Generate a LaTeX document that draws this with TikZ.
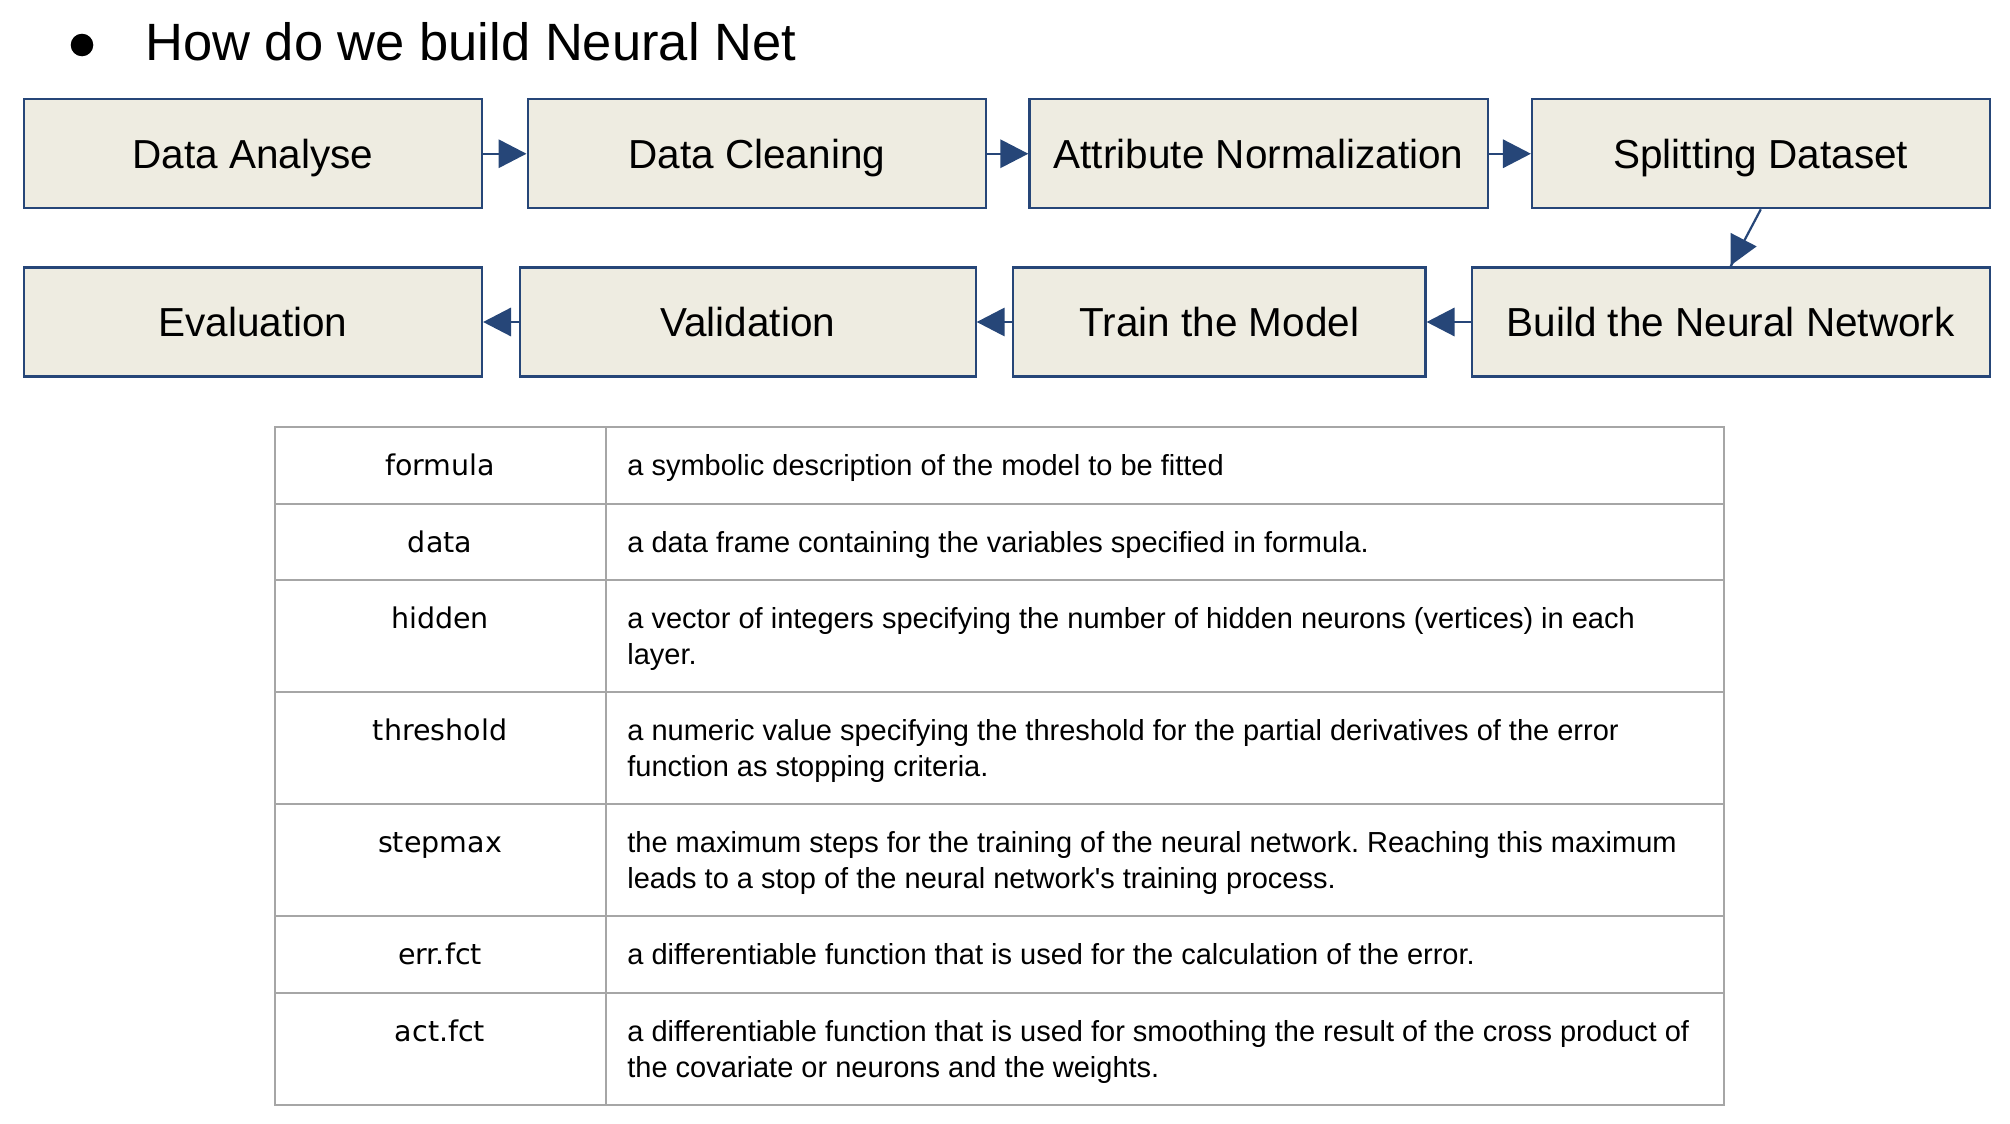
\documentclass[tikz,border=0pt]{standalone}
\usepackage{fontspec}
\newfontfamily\arialf{Liberation Sans}
\newfontfamily\dejavuf{DejaVu Sans}
\usetikzlibrary{arrows.meta,calc}
\definecolor{boxfill}{HTML}{EEECE1}
\definecolor{boxline}{HTML}{264678}
\definecolor{gridgray}{HTML}{A6A6A6}
\newcommand\twoln[2]{\vtop{\baselineskip=18pt\hbox{#1}\hbox{#2}}}
\frenchspacing
\begin{document}
\begin{tikzpicture}[x=0.5pt,y=-0.5pt,
  stepbox/.style={draw=boxline, fill=boxfill, line width=1.1pt, inner sep=0pt,
    minimum height=54.5pt, text height=14.5pt, text depth=0pt,
    font=\arialf\fontsize{20.25pt}{24pt}\selectfont},
  conn/.style={draw=boxline, line width=1.1pt},
  arr/.style={conn, -{Triangle[length=14pt,width=14.2pt]}},
  param/.style={font=\dejavuf\fontsize{14.25pt}{18pt}\selectfont, anchor=base, inner sep=0pt},
  desc/.style={font=\arialf\fontsize{14.5pt}{18pt}\selectfont, anchor=base west, inner sep=0pt},
  gridline/.style={draw=gridgray, line width=1pt}]
\useasboundingbox (0,0) rectangle (2010,1124);
% title
\node[circle, fill=black, minimum size=11.3pt, inner sep=0pt] (bullet) at (82,45) {};
\node[anchor=base west, inner sep=0pt, font=\arialf\fontsize{26.25pt}{30pt}\selectfont] (title) at (145,60.5) {How do we build Neural Net};
% row 1
\node[stepbox, minimum width=229.15pt] (da) at (252.85,153.75) {Data Analyse};
\node[stepbox, minimum width=229.2pt]  (dc) at (756.8,153.75) {Data Cleaning};
\node[stepbox, minimum width=229.15pt] (an) at (1258.55,153.75) {Attribute Normalization};
\node[stepbox, minimum width=228.8pt]  (sd) at (1760.8,153.75) {Splitting Dataset};
% row 2
\node[stepbox, minimum width=229.15pt] (ev) at (252.85,322) {Evaluation};
\node[stepbox, minimum width=227.8pt]  (va) at (747.8,322) {Validation};
\node[stepbox, minimum width=206.1pt]  (tm) at (1219.4,322) {Train the Model};
\node[stepbox, minimum width=258.95pt] (bn) at (1730.65,322) {Build the Neural Network};
% connectors
\draw[arr] (da.east) -- (dc.west);
\draw[arr] (dc.east) -- (an.west);
\draw[arr] (an.east) -- (sd.west);
\draw[conn] (sd.south) -- (bn.north);
\fill[boxline] ($(bn.north)+(0,-33.5)$) -- ($(bn.north)+(26,-20)$) -- ($(bn.north)+(0,-1)$) -- cycle;
\draw[arr] (bn.west) -- (tm.east);
\draw[arr] (tm.west) -- (va.east);
\draw[arr] (va.west) -- (ev.east);
% table
\draw[gridline] (274.5,427) rectangle (1724,1105);
\draw[gridline] (606,427) -- (606,1105);
\foreach \yy in {503.5,580,692,804,916,993} \draw[gridline] (274.5,\yy) -- (1724,\yy);
\node[param] (p1) at (440,475.5) {formula};
\node[param] (p2) at (440,552) {data};
\node[param] (p3) at (440,628.5) {hidden};
\node[param] (p4) at (440,740.5) {threshold};
\node[param] (p5) at (440,852.5) {stepmax};
\node[param] (p6) at (440,964.5) {err.fct};
\node[param] (p7) at (440,1041.5) {act.fct};
\node[desc] (d1) at (627,475.5) {a symbolic description of the model to be fitted};
\node[desc] (d2) at (627,552) {a data frame containing the variables specified in formula.};
\node[desc] (d3) at (627,628.5) {\twoln{a vector of integers specifying the number of hidden neurons (vertices) in each}{layer.}};
\node[desc] (d4) at (627,740.5) {\twoln{a numeric value specifying the threshold for the partial derivatives of the error}{function as stopping criteria.}};
\node[desc] (d5) at (627,852.5) {\twoln{the maximum steps for the training of the neural network. Reaching this maximum}{leads to a stop of the neural network's training process.}};
\node[desc] (d6) at (627,964.5) {a differentiable function that is used for the calculation of the error.};
\node[desc] (d7) at (627,1041.5) {\twoln{a differentiable function that is used for smoothing the result of the cross product of}{the covariate or neurons and the weights.}};
\end{tikzpicture}
\end{document}
